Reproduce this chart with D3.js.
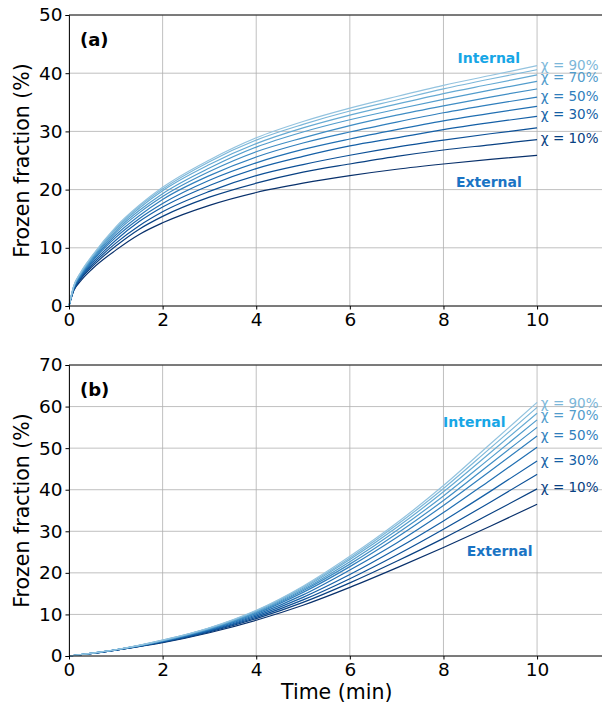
<!DOCTYPE html>
<html>
<head>
<meta charset="utf-8">
<script src="https://cdn.jsdelivr.net/npm/d3@7"></script>
<style>
body { margin: 0; background: #fff; }
text { font-family: "DejaVu Sans", sans-serif; }
</style>
</head>
<body>
<div id="chart"></div>
<script>
// time points (min)
var timeA = [0, 0.1, 0.25, 0.5, 1, 1.5, 2, 3, 4, 5, 6, 7, 8, 9, 10];
var timeB = [0, 0.5, 1, 2, 3, 4, 5, 6, 7, 8, 9, 10];

// chi = 0% (External) ... 100% (Internal), panel (a)
var fracA = [
  [0, 2.6, 4.3, 6.4, 9.6, 12.3, 14.3, 17.3, 19.5, 21.1, 22.4, 23.5, 24.4, 25.2, 25.9],
  [0, 2.7, 4.6, 6.8, 10.3, 13.2, 15.4, 18.7, 21.1, 23.0, 24.4, 25.7, 26.8, 27.7, 28.6],
  [0, 2.8, 4.8, 7.1, 10.8, 13.8, 16.2, 19.7, 22.4, 24.3, 25.9, 27.3, 28.5, 29.6, 30.6],
  [0, 2.9, 5.0, 7.4, 11.3, 14.5, 17.0, 20.7, 23.6, 25.7, 27.5, 28.9, 30.3, 31.5, 32.6],
  [0, 3.0, 5.1, 7.7, 11.8, 15.0, 17.6, 21.6, 24.6, 26.9, 28.7, 30.3, 31.8, 33.1, 34.3],
  [0, 3.1, 5.3, 7.9, 12.2, 15.5, 18.3, 22.4, 25.6, 28.0, 29.9, 31.6, 33.2, 34.6, 35.9],
  [0, 3.2, 5.4, 8.1, 12.6, 16.0, 18.8, 23.1, 26.5, 28.9, 31.0, 32.8, 34.4, 35.9, 37.3],
  [0, 3.3, 5.5, 8.3, 12.9, 16.4, 19.3, 23.7, 27.3, 29.9, 32.0, 33.8, 35.5, 37.1, 38.6],
  [0, 3.3, 5.6, 8.5, 13.2, 16.8, 19.8, 24.3, 27.9, 30.6, 32.8, 34.7, 36.5, 38.1, 39.7],
  [0, 3.4, 5.7, 8.6, 13.4, 17.1, 20.1, 24.8, 28.5, 31.2, 33.5, 35.4, 37.3, 39.0, 40.6],
  [0, 3.4, 5.8, 8.7, 13.6, 17.3, 20.4, 25.1, 28.9, 31.7, 34.0, 36.0, 37.9, 39.6, 41.3]
];

// panel (b)
var fracB = [
  [0, 0.6, 1.4, 3.2, 5.6, 8.6, 12.2, 16.5, 21.2, 26.1, 31.2, 36.5],
  [0, 0.6, 1.4, 3.3, 5.8, 9.0, 12.9, 17.6, 22.8, 28.3, 34.2, 40.2],
  [0, 0.6, 1.4, 3.4, 6.0, 9.3, 13.5, 18.6, 24.3, 30.5, 37.0, 43.7],
  [0, 0.6, 1.4, 3.5, 6.1, 9.6, 14.1, 19.6, 25.8, 32.5, 39.6, 46.9],
  [0, 0.7, 1.5, 3.5, 6.3, 9.9, 14.7, 20.7, 27.2, 34.5, 42.3, 50.2],
  [0, 0.7, 1.5, 3.6, 6.4, 10.2, 15.3, 21.5, 28.5, 36.2, 44.5, 52.9],
  [0, 0.7, 1.5, 3.7, 6.5, 10.4, 15.7, 22.1, 29.4, 37.4, 46.2, 55.0],
  [0, 0.7, 1.5, 3.7, 6.6, 10.6, 16.0, 22.7, 30.2, 38.5, 47.6, 56.8],
  [0, 0.7, 1.5, 3.7, 6.7, 10.8, 16.3, 23.2, 30.9, 39.5, 48.9, 58.4],
  [0, 0.7, 1.5, 3.8, 6.7, 10.9, 16.6, 23.6, 31.5, 40.3, 50.0, 59.8],
  [0, 0.7, 1.5, 3.8, 6.8, 11.0, 16.8, 24.0, 32.0, 41.0, 51.0, 61.0]
];

var xTicks = [0, 2, 4, 6, 8, 10];
var yTicksA = [0, 10, 20, 30, 40, 50];
var yTicksB = [0, 10, 20, 30, 40, 50, 60, 70];

// chi labels: index of line and y value of label
var chiIdx = [9, 7, 5, 3, 1];
var chiNames = ["χ = 90%", "χ = 70%", "χ = 50%", "χ = 30%", "χ = 10%"];
var chiYA = [41.3, 39.3, 36.1, 33.0, 28.9];
var chiYB = [60.9, 57.8, 53.2, 47.2, 40.6];

var W = 602, H = 704;
var svg = d3.select("#chart").append("svg")
  .attr("width", W).attr("height", H);

var color = function(i) { return d3.interpolateBlues(1.0 - i * 0.06); };

function panel(opt) {
  var x = d3.scaleLinear().domain([0, 11.43]).range([69, 604]);
  var y = d3.scaleLinear().domain([0, opt.ymax]).range([opt.bottom, opt.top]);
  var g = svg.append("g");

  // grid
  g.selectAll(".vg").data(xTicks).enter().append("line")
    .attr("x1", function(d) { return x(d); }).attr("x2", function(d) { return x(d); })
    .attr("y1", y(0)).attr("y2", y(opt.ymax))
    .attr("stroke", "#b0b0b0").attr("stroke-width", 0.8);
  g.selectAll(".hg").data(opt.yTicks).enter().append("line")
    .attr("x1", x(0)).attr("x2", W)
    .attr("y1", function(d) { return y(d); }).attr("y2", function(d) { return y(d); })
    .attr("stroke", "#b0b0b0").attr("stroke-width", 0.8);

  // lines
  var line = d3.line()
    .x(function(d) { return x(d[0]); })
    .y(function(d) { return y(d[1]); })
    .curve(d3.curveMonotoneX);
  opt.data.forEach(function(s, i) {
    g.append("path")
      .datum(opt.time.map(function(t, j) { return [t, s[j]]; }))
      .attr("d", line)
      .attr("fill", "none")
      .attr("stroke", color(i))
      .attr("stroke-width", 1.2);
  });

  // axes
  var xa = g.append("g").attr("transform", "translate(0," + y(0) + ")")
    .call(d3.axisBottom(x).tickValues(xTicks).tickSize(3.5).tickPadding(3).tickFormat(d3.format("d")));
  var ya = g.append("g").attr("transform", "translate(" + x(0) + ",0)")
    .call(d3.axisLeft(y).tickValues(opt.yTicks).tickSize(3.5).tickPadding(3).tickFormat(d3.format("d")));
  [xa, ya].forEach(function(a) {
    a.select(".domain").attr("stroke", "#000").attr("stroke-width", 0.9);
    a.selectAll("text").attr("font-size", 18.5).attr("fill", "#000")
      .attr("font-family", "DejaVu Sans");
  });
  xa.select(".domain").attr("d", "M" + x(0) + ",0H" + W);
  g.append("line").attr("x1", x(0)).attr("x2", W)
    .attr("y1", y(opt.ymax)).attr("y2", y(opt.ymax))
    .attr("stroke", "#000").attr("stroke-width", 0.9);

  g.append("text")
    .attr("transform", "translate(22," + ((opt.top + opt.bottom) / 2) + ") rotate(-90)")
    .attr("text-anchor", "middle")
    .attr("dy", "0.35em")
    .attr("font-size", 20.5)
    .text("Frozen fraction (%)");

  g.append("text").attr("x", 80).attr("y", opt.top + 31)
    .attr("font-size", 18).attr("font-weight", "bold").text(opt.tag);

  // annotations
  g.append("text").attr("x", x(opt.intX)).attr("y", y(opt.intY))
    .attr("text-anchor", "middle").attr("font-family", "Open Sans")
    .attr("font-weight", "bold").attr("font-size", 14).attr("fill", "#17a6e6")
    .text("Internal");
  g.append("text").attr("x", x(opt.extX)).attr("y", y(opt.extY))
    .attr("text-anchor", "middle").attr("font-family", "Open Sans")
    .attr("font-weight", "bold").attr("font-size", 14).attr("fill", "#1a74c4")
    .text("External");
  chiNames.forEach(function(n, k) {
    g.append("text").attr("x", x(10.08)).attr("y", y(opt.chiY[k]))
      .attr("dy", "0.35em").attr("font-family", "Open Sans")
      .attr("font-size", 13.5).attr("fill", color(chiIdx[k]))
      .text(n);
  });
  return x;
}

panel({ top: 15, bottom: 306, ymax: 50, yTicks: yTicksA, time: timeA, data: fracA,
  tag: "(a)", intX: 8.97, intY: 41.7, extX: 8.97, extY: 20.5, chiY: chiYA });
var x = panel({ top: 365, bottom: 656, ymax: 70, yTicks: yTicksB, time: timeB, data: fracB,
  tag: "(b)", intX: 8.66, intY: 55.2, extX: 9.2, extY: 24.0, chiY: chiYB });

svg.append("text").attr("x", x(5.72)).attr("y", 699)
  .attr("text-anchor", "middle").attr("font-size", 20.5).text("Time (min)");
</script>
</body>
</html>
